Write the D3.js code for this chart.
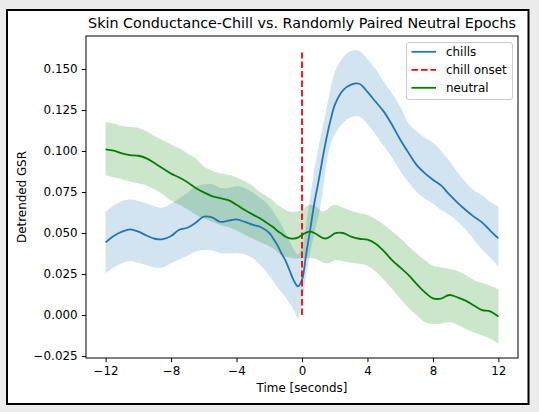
<!DOCTYPE html>
<html>
<head>
<meta charset="utf-8">
<script src="https://cdn.jsdelivr.net/npm/d3@7"></script>
<style>
  body { margin: 0; background: #ececec; }
  text { font-family: "DejaVu Sans", sans-serif; fill: #000; }
</style>
</head>
<body>
<svg id="chart" width="539" height="412"></svg>
<script>
// time axis (seconds around chill onset), finer steps near onset
const time = [-12,-11.5,-11,-10.5,-10,-9.5,-9,-8.5,-8,-7.5,-7,-6.5,-6,-5.5,-5,-4.5,-4,-3.5,-3,-2.5,-2,
  -1.75,-1.5,-1.25,-1,-0.75,-0.5,-0.25,0,0.25,0.5,0.75,1,1.25,1.5,1.75,
  2,2.5,3,3.5,4,4.5,5,5.5,6,6.5,7,7.5,8,8.5,9,9.5,10,10.5,11,11.5,12];

const chillsMean = [0.0443,0.0482,0.0508,0.0522,0.0508,0.0485,0.0465,0.0463,0.0482,0.0520,0.0532,0.0562,0.0600,0.0595,0.0568,0.0575,0.0583,0.0568,0.0550,0.0535,0.0500,
  0.0465,0.0425,0.0375,0.0330,0.0270,0.0210,0.0175,0.0215,0.0370,0.0520,0.0680,0.0810,0.0950,0.1080,0.1190,
  0.1280,0.1370,0.1405,0.1410,0.1360,0.1300,0.1240,0.1160,0.1070,0.0990,0.0915,0.0865,0.0825,0.0790,0.0735,0.0685,0.0640,0.0600,0.0565,0.0515,0.0467];
const chillsUpper = [0.0630,0.0668,0.0695,0.0705,0.0695,0.0680,0.0662,0.0655,0.0680,0.0711,0.0745,0.0782,0.0795,0.0798,0.0775,0.0775,0.0785,0.0775,0.0745,0.0710,0.0665,
  0.0630,0.0590,0.0550,0.0500,0.0450,0.0400,0.0370,0.0410,0.0550,0.0720,0.0880,0.1020,0.1140,0.1260,0.1380,
  0.1480,0.1570,0.1610,0.1610,0.1560,0.1500,0.1420,0.1350,0.1270,0.1170,0.1120,0.1080,0.1050,0.1000,0.0940,0.0870,0.0810,0.0760,0.0730,0.0690,0.0660];
const chillsLower = [0.0255,0.0290,0.0315,0.0329,0.0318,0.0303,0.0290,0.0290,0.0315,0.0340,0.0362,0.0386,0.0396,0.0393,0.0378,0.0375,0.0378,0.0370,0.0346,0.0300,0.0240,
  0.0205,0.0170,0.0140,0.0110,0.0070,0.0030,-0.0020,0.0080,0.0240,0.0380,0.0500,0.0600,0.0740,0.0930,0.1040,
  0.1100,0.1170,0.1205,0.1210,0.1165,0.1100,0.1030,0.0960,0.0880,0.0810,0.0750,0.0710,0.0680,0.0640,0.0610,0.0570,0.0520,0.0460,0.0400,0.0350,0.0295];

const neutralMean = [0.1010,0.1002,0.0985,0.0975,0.0971,0.0955,0.0925,0.0893,0.0862,0.0838,0.0810,0.0775,0.0748,0.0725,0.0712,0.0700,0.0672,0.0640,0.0612,0.0585,0.0552,
  0.0535,0.0512,0.0495,0.0477,0.0468,0.0466,0.0472,0.0488,0.0502,0.0508,0.0500,0.0485,0.0470,0.0467,0.0480,
  0.0498,0.0500,0.0478,0.0465,0.0460,0.0435,0.0390,0.0335,0.0290,0.0245,0.0190,0.0140,0.0102,0.0100,0.0122,0.0108,0.0088,0.0058,0.0030,0.0022,-0.0010];
const neutralUpper = [0.1175,0.1168,0.1152,0.1146,0.1140,0.1120,0.1090,0.1065,0.1040,0.1016,0.0985,0.0955,0.0905,0.0880,0.0864,0.0855,0.0840,0.0815,0.0785,0.0745,0.0715,
  0.0695,0.0670,0.0655,0.0640,0.0630,0.0628,0.0632,0.0640,0.0660,0.0672,0.0668,0.0650,0.0632,0.0640,0.0662,
  0.0670,0.0655,0.0635,0.0620,0.0610,0.0585,0.0550,0.0510,0.0470,0.0420,0.0376,0.0335,0.0300,0.0290,0.0282,0.0268,0.0245,0.0213,0.0195,0.0178,0.0157];
const neutralLower = [0.0850,0.0840,0.0828,0.0812,0.0802,0.0790,0.0765,0.0735,0.0695,0.0672,0.0645,0.0612,0.0590,0.0569,0.0549,0.0535,0.0515,0.0490,0.0465,0.0440,0.0420,
  0.0405,0.0385,0.0365,0.0355,0.0350,0.0346,0.0345,0.0346,0.0348,0.0348,0.0345,0.0335,0.0322,0.0315,0.0322,
  0.0333,0.0330,0.0318,0.0312,0.0300,0.0265,0.0215,0.0160,0.0100,0.0045,0.0000,-0.0043,-0.0055,-0.0052,-0.0042,-0.0060,-0.0085,-0.0105,-0.0125,-0.0145,-0.0173];

const onset = [0, 0.16];   // red dashed line, x=0, from..to
const xTicks = [-12, -8, -4, 0, 4, 8, 12];
const yTicks = [-0.025, 0, 0.025, 0.05, 0.075, 0.1, 0.125, 0.15];
const legendLabels = ["chills", "chill onset", "neutral"];

const svg = d3.select("#chart");
const pLeft = 86, pRight = 518, pTop = 36, pBottom = 358;

// figure frame
svg.append("rect").attr("x", 7).attr("y", 10).attr("width", 521.5).attr("height", 394)
   .attr("fill", "#fff").attr("stroke", "#000").attr("stroke-width", 2);

const x = d3.scaleLinear().domain([-13.2, 13.2]).range([pLeft, pRight]);
const y = d3.scaleLinear().domain([-0.0262, 0.1701]).range([pBottom, pTop]);

const chills = time.map((t, i) => ({t: t, m: chillsMean[i], hi: chillsUpper[i], lo: chillsLower[i]}));
const neutral = time.map((t, i) => ({t: t, m: neutralMean[i], hi: neutralUpper[i], lo: neutralLower[i]}));

const curve = d3.curveCatmullRom.alpha(0.5);
const area = d3.area().x(d => x(d.t)).y0(d => y(d.lo)).y1(d => y(d.hi)).curve(curve);
const line = d3.line().x(d => x(d.t)).y(d => y(d.m)).curve(curve);

const g = svg.append("g");

g.append("path").datum(chills).attr("d", area).attr("fill", "#1f77b4").attr("fill-opacity", 0.2);
g.append("path").datum(neutral).attr("d", area).attr("fill", "#008000").attr("fill-opacity", 0.2);

g.append("path").datum(chills).attr("d", line).attr("fill", "none")
 .attr("stroke", "#1f77b4").attr("stroke-width", 1.8);
g.append("line").attr("x1", x(0)).attr("x2", x(0)).attr("y1", y(onset[0])).attr("y2", y(onset[1]))
 .attr("stroke", "red").attr("stroke-width", 1.8).attr("stroke-dasharray", "6.6,2.9");
g.append("path").datum(neutral).attr("d", line).attr("fill", "none")
 .attr("stroke", "#008000").attr("stroke-width", 1.8);

// axes
const fmt = d3.format(".3f");
const xAxis = svg.append("g").attr("transform", `translate(0,${pBottom})`)
   .call(d3.axisBottom(x).tickValues(xTicks).tickSize(4.2).tickPadding(4.2).tickFormat(d3.format("d")));
const yAxis = svg.append("g").attr("transform", `translate(${pLeft},0)`)
   .call(d3.axisLeft(y).tickValues(yTicks).tickSize(4.2).tickPadding(4.2).tickFormat(fmt));
[xAxis, yAxis].forEach(a => {
  a.select(".domain").remove();
  a.selectAll("text").attr("font-family", "DejaVu Sans").attr("font-size", 11.9);
  a.selectAll("line").attr("stroke-width", 1);
});

svg.append("rect").attr("x", pLeft).attr("y", pTop).attr("width", pRight - pLeft).attr("height", pBottom - pTop)
   .attr("fill", "none").attr("stroke", "#000").attr("stroke-width", 1);

// labels
svg.append("text").attr("x", (pLeft + pRight) / 2).attr("y", 28).attr("text-anchor", "middle")
   .attr("font-size", 14.3).text("Skin Conductance-Chill vs. Randomly Paired Neutral Epochs");
svg.append("text").attr("x", (pLeft + pRight) / 2).attr("y", 392).attr("text-anchor", "middle")
   .attr("font-size", 11.9).text("Time [seconds]");
svg.append("text").attr("transform", `translate(26,${(pTop + pBottom) / 2}) rotate(-90)`)
   .attr("text-anchor", "middle").attr("font-size", 11.9).text("Detrended GSR");

// legend
const leg = svg.append("g").attr("transform", "translate(406.5,42.5)");
leg.append("rect").attr("width", 106).attr("height", 57).attr("rx", 2.5)
   .attr("fill", "#fff").attr("fill-opacity", 0.8).attr("stroke", "#ccc").attr("stroke-width", 1);
const legColors = ["#1f77b4", "red", "#008000"];
legendLabels.forEach((lab, i) => {
  const yy = 9.3 + i * 18;
  leg.append("line").attr("x1", 5).attr("x2", 29.5).attr("y1", yy).attr("y2", yy)
     .attr("stroke", legColors[i]).attr("stroke-width", 1.8)
     .attr("stroke-dasharray", i == 1 ? "6.6,2.9" : null);
  leg.append("text").attr("x", 39.5).attr("y", yy).attr("dy", "0.35em")
     .attr("font-size", 11.9).text(lab);
});
</script>
</body>
</html>
